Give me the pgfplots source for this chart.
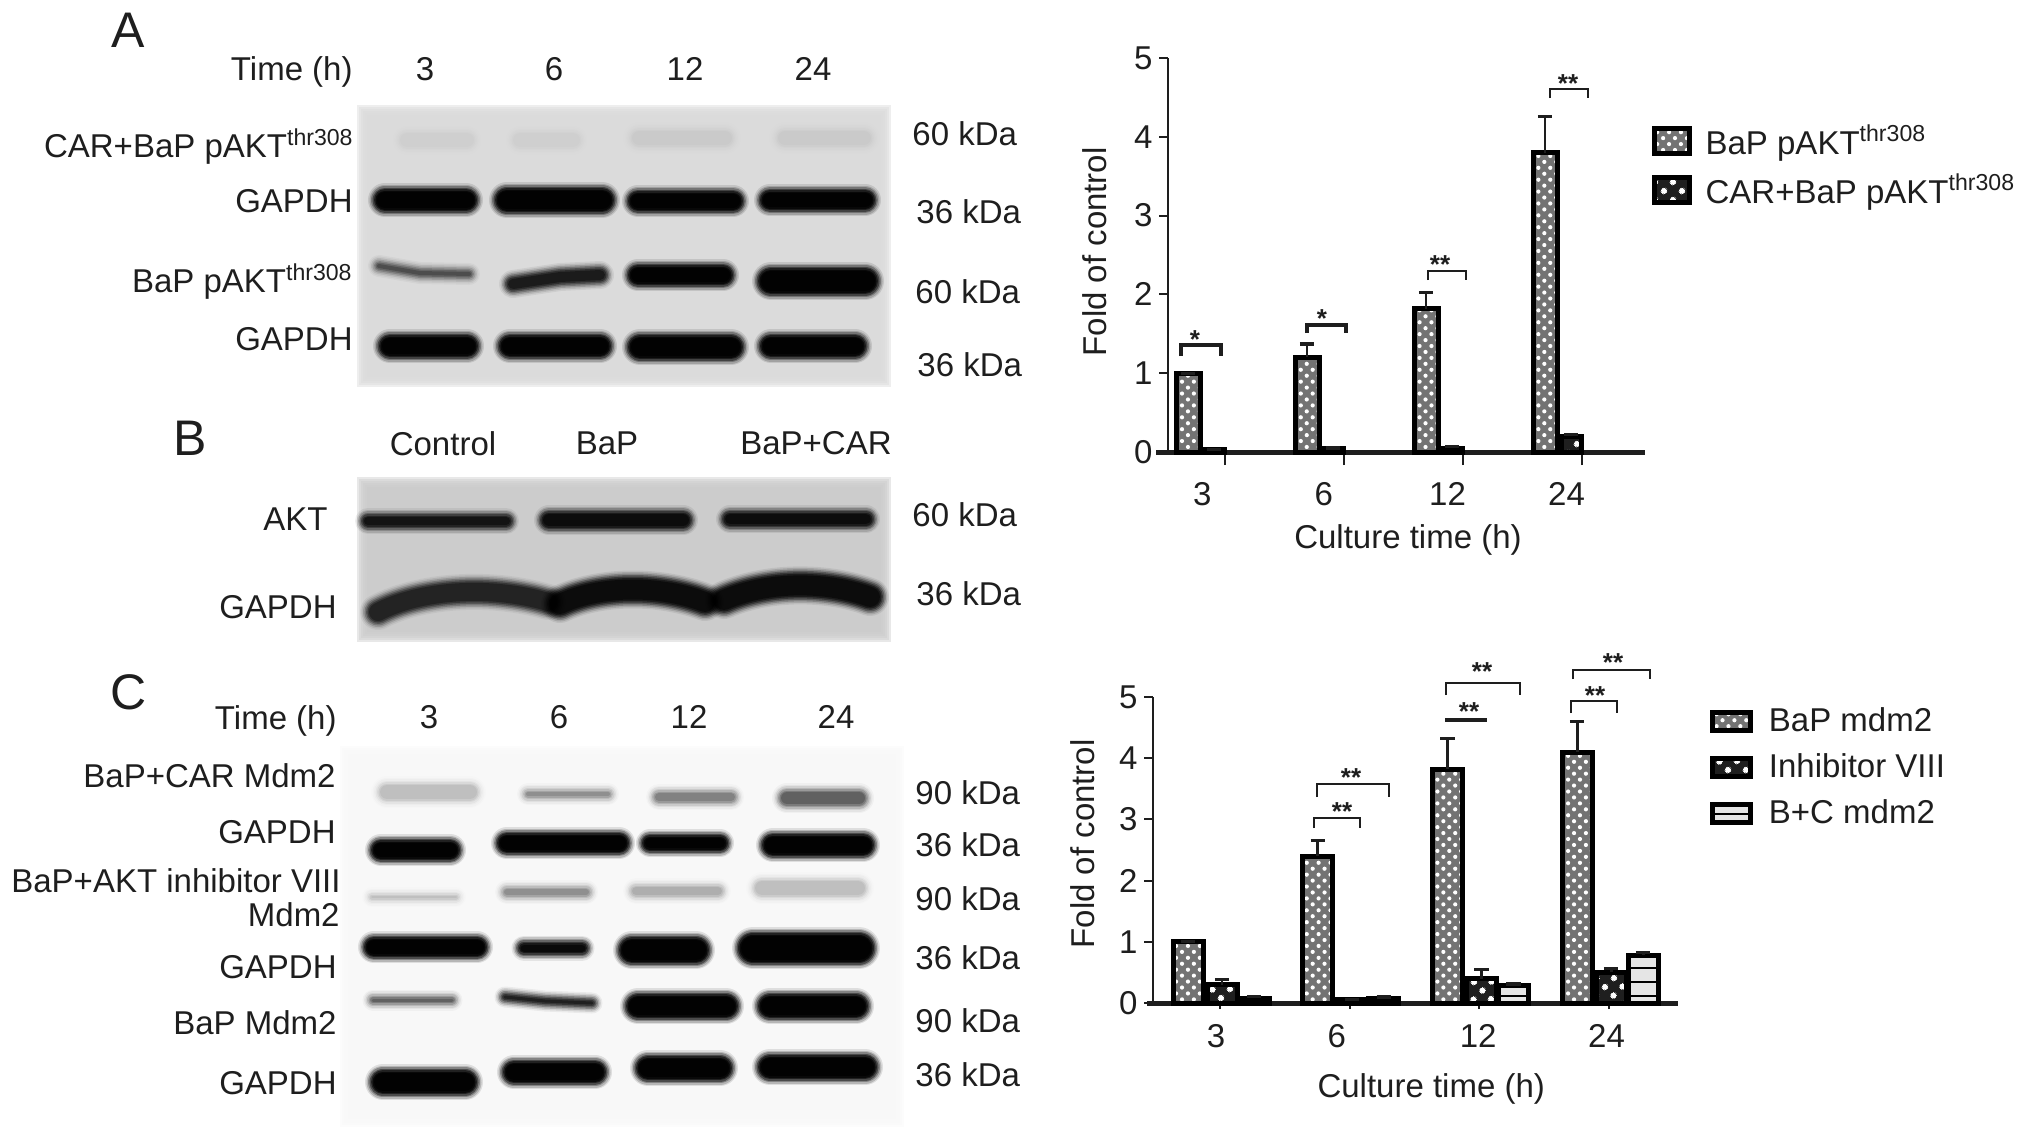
\documentclass[border=0pt]{standalone}
\usepackage{fontspec}
\setmainfont{Liberation Sans}
\usepackage{pgfplots}
\pgfplotsset{compat=1.18}
\usetikzlibrary{patterns,patterns.meta}

\definecolor{ink}{HTML}{1E1E1E}
\definecolor{panelA}{HTML}{DADADA}
\definecolor{panelB}{HTML}{CBCBCB}
\definecolor{panelC}{HTML}{F8F8F8}

% fuzzy western-blot band: opacity, height (px), path
\newcommand\blot[3]{%
  \foreach \g/\f in {12/.15,9/.25,6/.4,3/.6,0/.8,-3/1,-6/1}{%
    \pgfmathsetmacro\lw{max(#2+\g,1)*0.5}%
    \pgfmathsetmacro\oo{#1*\f}%
    \draw[black,opacity=\oo,line cap=round,line width=\lw pt] #3;%
  }%
}
\newcommand\band[5]{\blot{#1}{#2}{(#3,#5) -- (#4,#5)}}
% soft-edged panel
\newcommand\panel[5]{%
  \foreach \g in {4,2,0,-2,-4,-6}{%
    \fill[#5,opacity=.45] (#1-\g,#2-\g) rectangle (#3+\g,#4+\g);%
  }%
}

\pgfplotsset{
  chartbase/.style={
    axis lines=left,
    axis line style={-,ink},
    x axis line style={line width=2.5pt},
    y axis line style={line width=1.3pt},
    scale only axis,
    anchor=south west,
    ymin=0,ymax=5,ytick={0,1,2,3,4,5},
    tick align=outside,
    ytick style={ink,line width=1pt,/pgfplots/major tick length=4.5pt},
    ticklabel style={font=\fontsize{16.5}{18}\selectfont,text=ink},
    /pgf/number format/assume math mode=true,
    label style={font=\fontsize{16.5}{18}\selectfont,text=ink},
    error bars/y dir=plus,
    error bars/y explicit,
    error bars/error mark options={rotate=90,mark size=3.6pt,line width=1.6pt,ink},
    clip=false,
  },
  ebshift/.style={error bars/error bar style={line width=1.4pt,ink,solid,xshift=#1}},
  pdots/.style={draw=black,line width=2.5pt,preaction={fill=black!55},
    pattern={Dots[angle=45,distance=4.2pt,radius=1.05pt]},pattern color=white},
  pcheck/.style={draw=black,line width=2.5pt,preaction={fill=black!88},
    pattern={Dots[angle=45,distance=6.5pt,radius=1.7pt]},pattern color=white},
  pstripe/.style={draw=black,line width=2.5pt,preaction={fill=black!10},
    pattern={Lines[angle=0,distance=7pt,line width=1pt]},pattern color=black},
}

\begin{document}
\begin{tikzpicture}[x=0.5pt,y=-0.5pt,
  lab/.style={font=\fontsize{16.5}{18}\selectfont,text=ink,inner sep=0pt,text height=0.72em,text depth=0.16em,yshift=-3pt},
  big/.style={font=\fontsize{25}{27}\selectfont,text=ink,inner sep=0pt},
  star/.style={font=\fontsize{13}{14}\selectfont\bfseries,text=ink,inner sep=0pt,yshift=-2.2pt},
  brk/.style={ink,line width=1.1pt},
  brkk/.style={ink,line width=2pt}]
\useasboundingbox (0,0) rectangle (2032,1136);

%%%% Panel A blot
\panel{361}{109}{887}{383}{panelA}
\band{.012}{20}{407}{467}{140}
\band{.01}{20}{520}{573}{140}
\band{.016}{20}{639}{725}{138}
\band{.016}{20}{785}{864}{138}
\band{.7}{22}{385}{466}{200}
\band{.7}{24}{507}{602}{200}
\band{.7}{20}{638}{733}{201}
\band{.7}{20}{770}{865}{200}
\blot{.22}{10}{(379,266) -- (420,273) -- (469,274)}
\blot{.4}{16}{(513,284) -- (560,277) -- (600,275)}
\band{.7}{20}{638}{723}{275}
\band{.7}{26}{771}{865}{281}
\band{.7}{22}{390}{467}{346}
\band{.7}{22}{510}{600}{346}
\band{.7}{24}{640}{731}{347}
\band{.7}{22}{771}{855}{346}

%%%% Panel B blot
\panel{361}{481}{887}{638}{panelB}
\band{.45}{14}{368}{506}{521}
\band{.5}{18}{549}{683}{520}
\band{.5}{16}{730}{866}{519}
\blot{.35}{24}{(378,612) .. controls (420,590) and (490,585) .. (548,602)}
\blot{.5}{26}{(560,604) .. controls (600,585) and (660,585) .. (705,602)}
\blot{.5}{26}{(724,600) .. controls (770,580) and (830,582) .. (870,597)}

%%%% Panel C blot
\panel{344}{750}{900}{1123}{panelC}
\band{.06}{20}{387}{470}{792}
\band{.12}{10}{528}{608}{794}
\band{.14}{14}{659}{731}{797}
\band{.2}{18}{787}{859}{798}
\band{.7}{20}{381}{450}{850}
\band{.7}{20}{507}{619}{843}
\band{.7}{16}{650}{720}{843}
\band{.7}{22}{773}{863}{845}
\band{.06}{8}{372}{456}{897}
\band{.12}{12}{507}{586}{892}
\band{.08}{14}{636}{718}{891}
\band{.06}{20}{762}{858}{888}
\band{.7}{20}{374}{477}{947}
\band{.55}{13}{524}{582}{948}
\band{.7}{26}{632}{696}{950}
\band{.7}{30}{753}{859}{948}
\band{.2}{9}{373}{452}{1000}
\blot{.4}{9}{(505,997) -- (545,1001) -- (592,1003)}
\band{.7}{24}{638}{726}{1006}
\band{.7}{24}{770}{856}{1006}
\band{.7}{24}{383}{465}{1082}
\band{.7}{22}{514}{595}{1072}
\band{.7}{24}{648}{720}{1068}
\band{.7}{24}{770}{865}{1067}

%%%% Labels A
\node[big] at (128,30) {A};
\node[lab,anchor=east] at (353,69) {Time (h)};
\node[lab] at (425,69) {3};
\node[lab] at (554,69) {6};
\node[lab] at (685,69) {12};
\node[lab] at (813,69) {24};
\node[lab,anchor=east] at (354,146) {CAR+BaP pAKT\textsuperscript{thr308}};
\node[lab,anchor=east] at (353,201) {GAPDH};
\node[lab,anchor=east] at (353,281) {BaP pAKT\textsuperscript{thr308}};
\node[lab,anchor=east] at (353,339) {GAPDH};
\node[lab,anchor=west] at (912,134) {60 kDa};
\node[lab,anchor=west] at (916,212) {36 kDa};
\node[lab,anchor=west] at (915,292) {60 kDa};
\node[lab,anchor=west] at (917,365) {36 kDa};

%%%% Labels B
\node[big] at (190,438) {B};
\node[lab] at (443,444) {Control};
\node[lab] at (607,443) {BaP};
\node[lab] at (816,443) {BaP+CAR};
\node[lab,anchor=east] at (328,519) {AKT};
\node[lab,anchor=east] at (337,607) {GAPDH};
\node[lab,anchor=west] at (912,515) {60 kDa};
\node[lab,anchor=west] at (916,594) {36 kDa};

%%%% Labels C
\node[big] at (129,692) {C};
\node[lab,anchor=east] at (337,718) {Time (h)};
\node[lab] at (429,717) {3};
\node[lab] at (559,717) {6};
\node[lab] at (689,717) {12};
\node[lab] at (836,717) {24};
\node[lab,anchor=east] at (336,776) {BaP+CAR Mdm2};
\node[lab,anchor=east] at (336,832) {GAPDH};
\node[lab,anchor=east] at (341,881) {BaP+AKT inhibitor VIII};
\node[lab,anchor=east] at (340,915) {Mdm2};
\node[lab,anchor=east] at (337,967) {GAPDH};
\node[lab,anchor=east] at (337,1023) {BaP Mdm2};
\node[lab,anchor=east] at (337,1083) {GAPDH};
\node[lab,anchor=west] at (915,793) {90 kDa};
\node[lab,anchor=west] at (915,845) {36 kDa};
\node[lab,anchor=west] at (915,899) {90 kDa};
\node[lab,anchor=west] at (915,958) {36 kDa};
\node[lab,anchor=west] at (915,1021) {90 kDa};
\node[lab,anchor=west] at (915,1075) {36 kDa};

%%%% Chart A
\begin{axis}[chartbase,
  at={(584pt,-226pt)},width=238.5pt,height=197pt,
  xmin=-0.479,xmax=3.529,
  xtick={-0.19,0.83,1.87,2.87},
  xticklabels={3,6,12,24},
  xticklabel style={yshift=-7.5pt},
  xtick style={draw=none},
  extra x ticks={0,1,2,3},
  extra x tick labels={},
  extra x tick style={xtick style={draw=ink,line width=1pt,/pgfplots/major tick length=6.5pt}},
  xlabel={Culture time (h)},ylabel={Fold of control},
  xlabel style={at={(axis description cs:0.503,-0.224)},anchor=center},
  ylabel style={at={(axis description cs:-0.153,0.508)},anchor=center},
  legend cell align=left,
  legend style={at={(axis description cs:1.013,0.841)},anchor=north west,draw=none,fill=none,
    font=\fontsize{16.5}{18}\selectfont,text=ink,/tikz/row sep=4.3pt,/tikz/column sep=5pt,inner sep=0pt},
  legend image code/.code={\draw[#1] (0pt,-6.2pt) rectangle (17.5pt,6.2pt);},
]
\addplot[ybar,bar width=12pt,bar shift=-18.5pt,pdots,ebshift=-18.5pt] table[x=x,y=y,y error=e] {
x y e
0 1.00 0.00
1 1.20 0.17
2 1.82 0.20
3 3.80 0.46
};
\addlegendentry{BaP pAKT\textsuperscript{thr308}}
\addplot[ybar,bar width=10pt,bar shift=-5.5pt,pcheck,ebshift=-5.5pt] table[x=x,y=y,y error=e] {
x y e
0 0.03 0.00
1 0.05 0.00
2 0.05 0.02
3 0.20 0.02
};
\addlegendentry{CAR+BaP pAKT\textsuperscript{thr308}}
\end{axis}
\draw[ink,line width=2.5pt] (1156,452) -- (1170,452);
% significance marks A
\draw[brkk] (1181,356) -- (1181,345) -- (1221,345) -- (1221,356);
\node[star] at (1195,335) {*};
\draw[brkk] (1307,333) -- (1307,325) -- (1346,325) -- (1346,333);
\node[star] at (1322,314) {*};
\draw[brk] (1428,280) -- (1428,271) -- (1466,271) -- (1466,280);
\node[star] at (1440,260) {**};
\draw[brk] (1550,98) -- (1550,89) -- (1588,89) -- (1588,98);
\node[star] at (1568,79) {**};

%%%% Chart C
\begin{axis}[chartbase,
  at={(576.5pt,-501.5pt)},width=262.5pt,height=153pt,
  xmin=-0.5166,xmax=3.531,
  xtick={-0.03,0.90,1.99,2.98},
  xticklabels={3,6,12,24},
  xticklabel style={yshift=-3pt},
  xtick style={draw=none},
  extra x ticks={0,1,2,3},
  extra x tick labels={},
  extra x tick style={xtick style={draw=ink,line width=1pt,/pgfplots/major tick length=3pt}},
  xlabel={Culture time (h)},ylabel={Fold of control},
  xlabel style={at={(axis description cs:0.53,-0.281)},anchor=center},
  ylabel style={at={(axis description cs:-0.133,0.52)},anchor=center},
  legend cell align=left,
  legend style={at={(axis description cs:1.06,0.979)},anchor=north west,draw=none,fill=none,
    font=\fontsize{16.5}{18}\selectfont,text=ink,/tikz/row sep=5.6pt,/tikz/column sep=6pt,inner sep=0pt},
  legend image code/.code={\draw[#1] (0pt,-4.5pt) rectangle (19pt,4.5pt);},
]
\addplot[ybar,bar width=15pt,bar shift=-16pt,pdots,ebshift=-16pt] table[x=x,y=y,y error=e] {
x y e
0 1.00 0.00
1 2.40 0.25
2 3.82 0.50
3 4.10 0.50
};
\addlegendentry{BaP mdm2}
\addplot[ybar,bar width=15pt,bar shift=1pt,pcheck,ebshift=1pt] table[x=x,y=y,y error=e] {
x y e
0 0.30 0.08
1 0.05 0.01
2 0.40 0.15
3 0.50 0.07
};
\addlegendentry{Inhibitor VIII}
\addplot[ybar,bar width=15pt,bar shift=17pt,pstripe,ebshift=17pt] table[x=x,y=y,y error=e] {
x y e
0 0.08 0.03
1 0.08 0.02
2 0.28 0.03
3 0.78 0.04
};
\addlegendentry{B+C mdm2}
\end{axis}
\draw[ink,line width=2.5pt] (1147,1003) -- (1155,1003);
% significance marks C
\draw[brk] (1314,828) -- (1314,818) -- (1360,818) -- (1360,828);
\node[star] at (1342,807) {**};
\draw[brk] (1317,797) -- (1317,784) -- (1389,784) -- (1389,797);
\node[star] at (1351,773) {**};
\draw[brkk] (1445,720) -- (1487,720);
\node[star] at (1469,707) {**};
\draw[brk] (1446,695) -- (1446,683) -- (1520,683) -- (1520,695);
\node[star] at (1482,667) {**};
\draw[brk] (1571,713) -- (1571,701) -- (1617,701) -- (1617,713);
\node[star] at (1595,691) {**};
\draw[brk] (1573,679) -- (1573,670) -- (1650,670) -- (1650,679);
\node[star] at (1613,658) {**};
\end{tikzpicture}
\end{document}
